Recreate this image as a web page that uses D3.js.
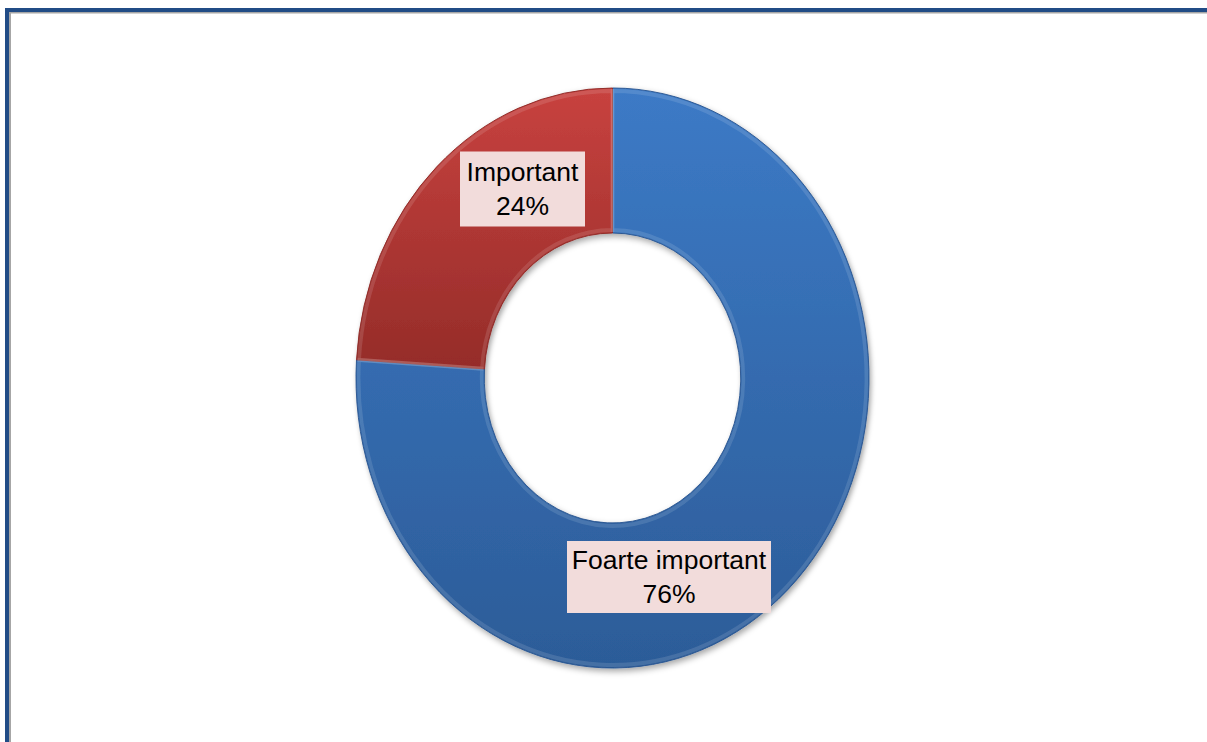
<!DOCTYPE html>
<html>
<head>
<meta charset="utf-8">
<script src="https://cdn.jsdelivr.net/npm/d3@7"></script>
<style>
  html, body { margin: 0; padding: 0; background: #fff; }
  svg { display: block; }
</style>
</head>
<body>
<svg id="chart" width="1207" height="742"></svg>
<script>
// ---- data ----
const categories = ["Foarte important", "Important"];
const values = [76, 24];
const percentLabels = ["76%", "24%"];

// ---- layout ----
const W = 1207, H = 742;
const cx = 612.5, cy = 378;
const R = 290;          // vertical outer radius
const sx = 256.5 / 290; // horizontal squash of the donut
const innerRatio = 0.5;

const svg = d3.select("#chart");
const defs = svg.append("defs");

function vGrad(id, top, bottom) {
  const g = defs.append("linearGradient").attr("id", id)
    .attr("x1", 0).attr("y1", 0).attr("x2", 0).attr("y2", 1);
  g.append("stop").attr("offset", "0%").attr("stop-color", top);
  g.append("stop").attr("offset", "100%").attr("stop-color", bottom);
}
vGrad("gBlue", "#3C7AC6", "#2C5C98");
vGrad("gRed", "#C8423F", "#952C29");

const sh = defs.append("filter").attr("id", "shadow")
  .attr("x", "-10%").attr("y", "-10%").attr("width", "120%").attr("height", "120%");
sh.append("feDropShadow").attr("dx", 2).attr("dy", 3).attr("stdDeviation", 3)
  .attr("flood-color", "#000").attr("flood-opacity", 0.35);

// frame (only left/top visible)
svg.append("rect").attr("x", 5).attr("y", 8).attr("width", 4).attr("height", H)
  .attr("fill", "#214C86");
svg.append("rect").attr("x", 5).attr("y", 8).attr("width", W).attr("height", 4)
  .attr("fill", "#214C86");
svg.append("rect").attr("x", 9).attr("y", 12).attr("width", 2).attr("height", H)
  .attr("fill", "#A6A6A6");
svg.append("rect").attr("x", 9).attr("y", 12).attr("width", W).attr("height", 1.5)
  .attr("fill", "#A6A6A6");

const fills = { "Foarte important": "url(#gBlue)", "Important": "url(#gRed)" };
const strokes = { "Foarte important": "#2A5690", "Important": "#8E2A27" };

const pie = d3.pie().sort(null).value(d => d.value);
const arcs = pie(categories.map((c, i) => ({ cat: c, value: values[i], pct: percentLabels[i] })));
const arc = d3.arc().innerRadius(R * innerRatio).outerRadius(R);

const g = svg.append("g")
  .attr("transform", `translate(${cx},${cy}) scale(${sx},1)`)
  .attr("filter", "url(#shadow)");

g.selectAll("path.slice").data(arcs).join("path")
  .attr("class", "slice")
  .attr("d", arc)
  .attr("fill", d => fills[d.data.cat])
  .attr("stroke", d => strokes[d.data.cat])
  .attr("stroke-width", 1);

// bevel highlight along the slice edges
const bevel = d3.arc().innerRadius(R * innerRatio + 3).outerRadius(R - 3);
g.selectAll("path.bevel").data(arcs).join("path")
  .attr("class", "bevel")
  .attr("d", bevel)
  .attr("fill", "none")
  .attr("stroke", "#fff")
  .attr("stroke-opacity", 0.12)
  .attr("stroke-width", 4);

// labels
const labelPos = {
  "Foarte important": { x: 669, y: 577, w: 204, h: 72 },
  "Important": { x: 522.5, y: 189, w: 125, h: 75 }
};
const lg = svg.append("g");
arcs.forEach(d => {
  const p = labelPos[d.data.cat];
  lg.append("rect")
    .attr("x", p.x - p.w / 2).attr("y", p.y - p.h / 2)
    .attr("width", p.w).attr("height", p.h)
    .attr("fill", "#F2DCDB");
  const t = lg.append("text")
    .attr("x", p.x).attr("y", p.y)
    .attr("text-anchor", "middle")
    .attr("font-family", "'Liberation Sans', Arial, sans-serif")
    .attr("font-size", 26.5)
    .attr("fill", "#000");
  t.append("tspan").attr("x", p.x).attr("y", p.y - 8).text(d.data.cat);
  t.append("tspan").attr("x", p.x).attr("y", p.y + 26).text(d.data.pct);
});
</script>
</body>
</html>
